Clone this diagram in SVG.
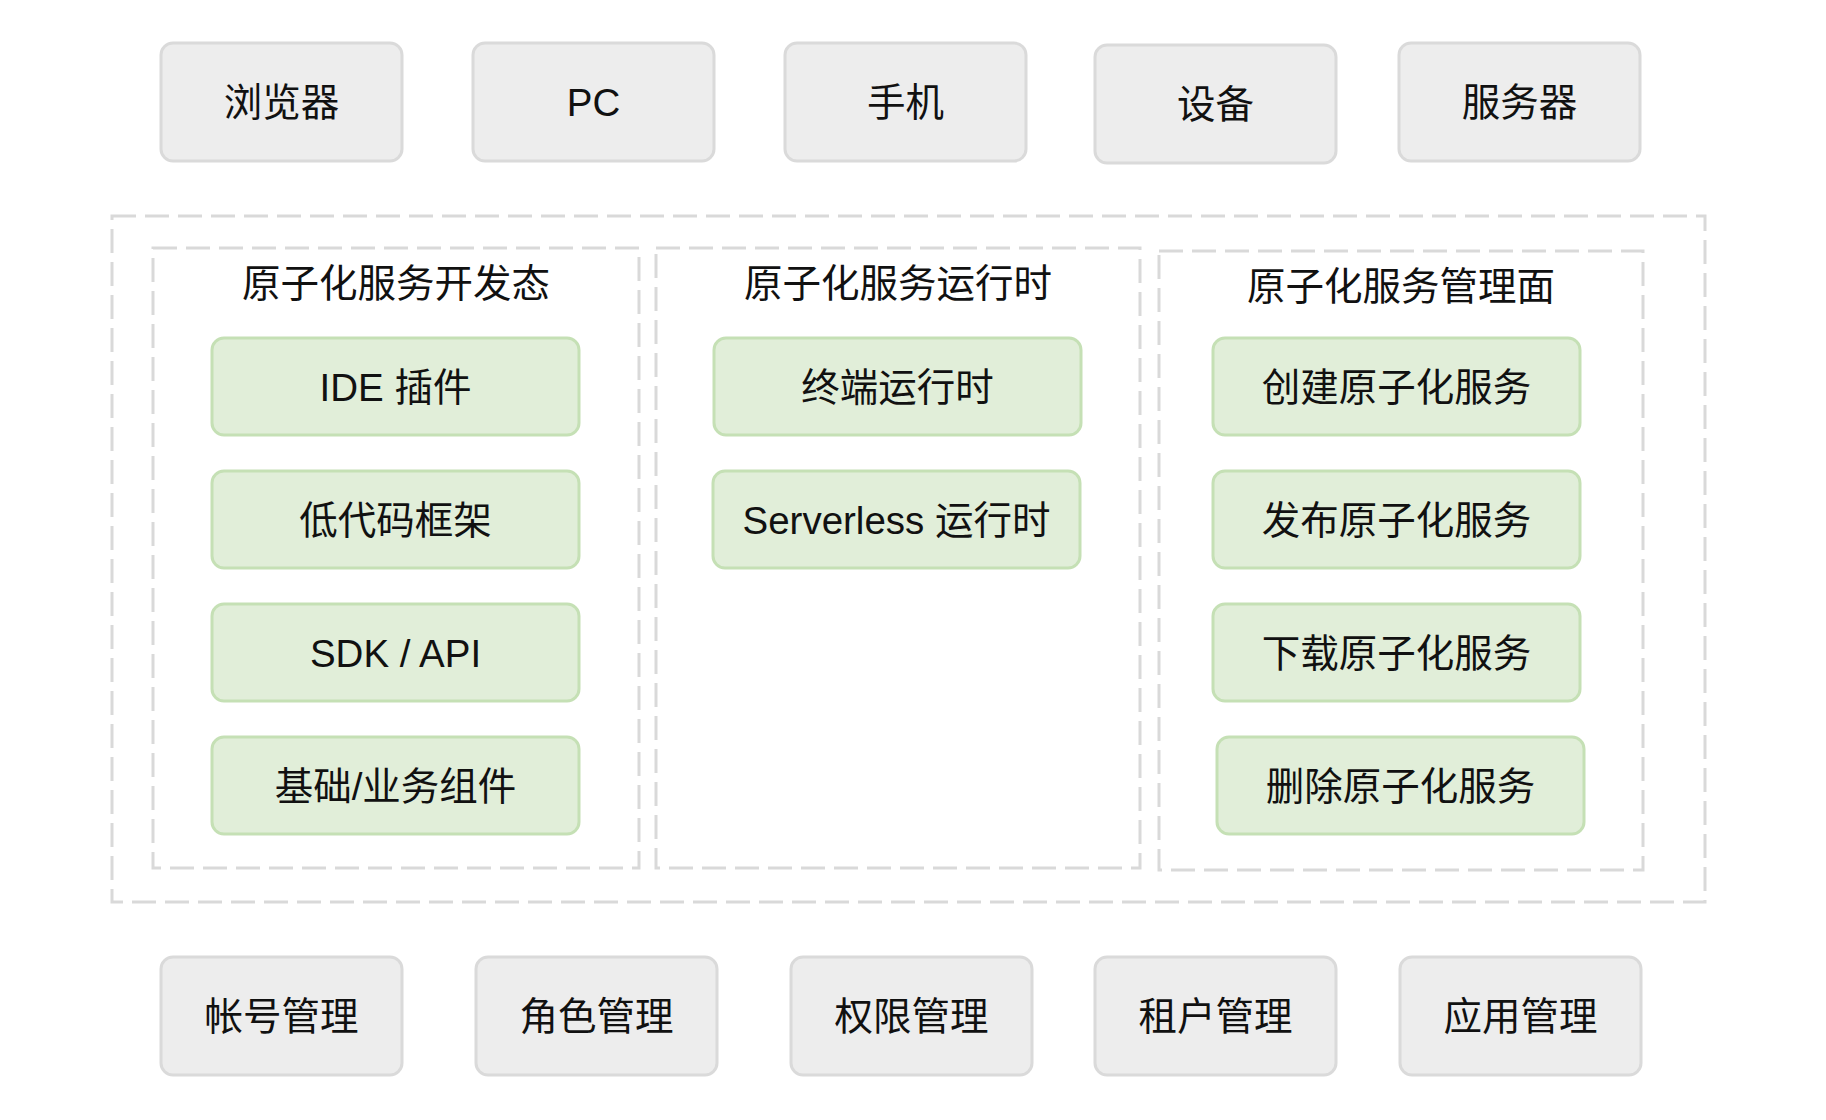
<svg xmlns="http://www.w3.org/2000/svg" width="1826" height="1120" viewBox="0 0 1826 1120">
  <style>
    .bg { fill: #ffffff; }
    .grey { fill: #ededed; stroke: #dadada; stroke-width: 3; }
    .green { fill: #e1eed9; stroke: #c5e0b5; stroke-width: 3; }
    .frame { fill: none; stroke: #d9d9d9; stroke-width: 3; stroke-dasharray: 24 9; }
    text { font-family: "Liberation Sans", "Noto Sans CJK SC", sans-serif; font-size: 38.5px; fill: #111111; text-anchor: middle; }
  </style>
  <rect class="bg" x="0" y="0" width="1826" height="1120"/>

  <!-- dashed containers -->
  <g id="containers">
    <rect id="outer" class="frame" x="112" y="216" width="1593" height="686"/>
    <g id="panel-dev">
      <rect class="frame" x="153" y="248" width="486" height="620"/>
      <text x="396" y="297">原子化服务开发态</text>
    </g>
    <g id="panel-runtime">
      <rect class="frame" x="656" y="248" width="484" height="620"/>
      <text x="898" y="297">原子化服务运行时</text>
    </g>
    <g id="panel-manage">
      <rect class="frame" x="1159" y="251" width="484" height="619"/>
      <text x="1401" y="300">原子化服务管理面</text>
    </g>
  </g>

  <!-- top row: clients -->
  <g id="browser"><rect class="grey" x="161" y="43" width="241" height="118" rx="12"/><text x="281.5" y="116">浏览器</text></g>
  <g id="pc"><rect class="grey" x="473" y="43" width="241" height="118" rx="12"/><text x="593.5" y="116">PC</text></g>
  <g id="phone"><rect class="grey" x="785" y="43" width="241" height="118" rx="12"/><text x="905.5" y="116">手机</text></g>
  <g id="device"><rect class="grey" x="1095" y="45" width="241" height="118" rx="12"/><text x="1215.5" y="118">设备</text></g>
  <g id="server"><rect class="grey" x="1399" y="43" width="241" height="118" rx="12"/><text x="1519.5" y="116">服务器</text></g>

  <!-- development -->
  <g id="ide-plugin"><rect class="green" x="212" y="338" width="367" height="97" rx="12"/><text x="395.5" y="401">IDE 插件</text></g>
  <g id="lowcode"><rect class="green" x="212" y="471" width="367" height="97" rx="12"/><text x="395.5" y="534">低代码框架</text></g>
  <g id="sdk-api"><rect class="green" x="212" y="604" width="367" height="97" rx="12"/><text x="395.5" y="667">SDK / API</text></g>
  <g id="components"><rect class="green" x="212" y="737" width="367" height="97" rx="12"/><text x="395.5" y="800">基础/业务组件</text></g>

  <!-- runtime -->
  <g id="terminal-runtime"><rect class="green" x="714" y="338" width="367" height="97" rx="12"/><text x="897.5" y="401">终端运行时</text></g>
  <g id="serverless-runtime"><rect class="green" x="713" y="471" width="367" height="97" rx="12"/><text x="896.5" y="534">Serverless 运行时</text></g>

  <!-- management -->
  <g id="create"><rect class="green" x="1213" y="338" width="367" height="97" rx="12"/><text x="1396.5" y="401">创建原子化服务</text></g>
  <g id="publish"><rect class="green" x="1213" y="471" width="367" height="97" rx="12"/><text x="1396.5" y="534">发布原子化服务</text></g>
  <g id="download"><rect class="green" x="1213" y="604" width="367" height="97" rx="12"/><text x="1396.5" y="667">下载原子化服务</text></g>
  <g id="delete"><rect class="green" x="1217" y="737" width="367" height="97" rx="12"/><text x="1400.5" y="800">删除原子化服务</text></g>

  <!-- bottom row: admin -->
  <g id="account"><rect class="grey" x="161" y="957" width="241" height="118" rx="12"/><text x="281.5" y="1030">帐号管理</text></g>
  <g id="role"><rect class="grey" x="476" y="957" width="241" height="118" rx="12"/><text x="596.5" y="1030">角色管理</text></g>
  <g id="permission"><rect class="grey" x="791" y="957" width="241" height="118" rx="12"/><text x="911.5" y="1030">权限管理</text></g>
  <g id="tenant"><rect class="grey" x="1095" y="957" width="241" height="118" rx="12"/><text x="1215.5" y="1030">租户管理</text></g>
  <g id="app"><rect class="grey" x="1400" y="957" width="241" height="118" rx="12"/><text x="1520.5" y="1030">应用管理</text></g>

  <g id="connectors"></g>
</svg>
